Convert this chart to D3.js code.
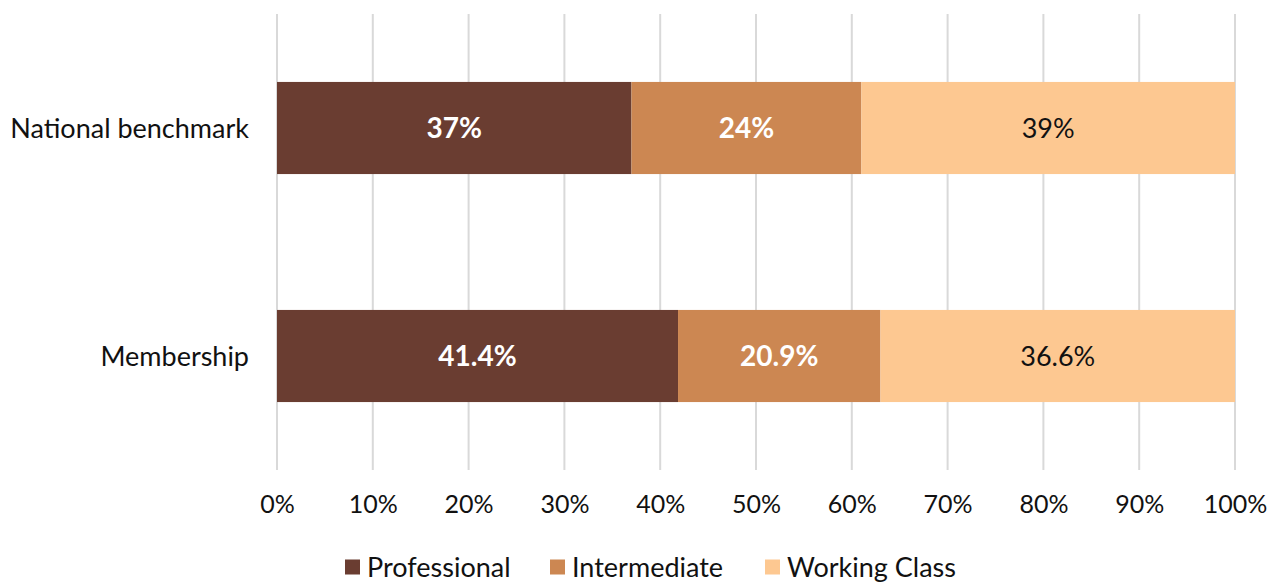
<!DOCTYPE html>
<html><head><meta charset="utf-8">
<script src="https://cdn.jsdelivr.net/npm/d3@7"></script>
<style>body{margin:0;background:#fff}text{font-family:Lato,"Open Sans",sans-serif}</style>
</head><body><svg id="c" width="1280" height="584"></svg>
<script>
const categories = ["National benchmark", "Membership"];
const seriesNames = ["Professional", "Intermediate", "Working Class"];
const professional = [37, 41.4];
const intermediate = [24, 20.9];
const workingClass = [39, 36.6];
const labels = [["37%", "41.4%"], ["24%", "20.9%"], ["39%", "36.6%"]];
const tickValues = [0, 0.1, 0.2, 0.3, 0.4, 0.5, 0.6, 0.7, 0.8, 0.9, 1];
const colors = ["#6a3d31", "#cc8752", "#fdc891"];
const labelColors = ["#fff", "#fff", "#111"];
const labelWeights = ["bold", "bold", "normal"];
const labelSizes = [28, 28, 27];

const svg = d3.select("#c");
const mLeft = 277, mRight = 1235, mTop = 14, mBottom = 470;
const x = d3.scaleLinear().domain([0, 1]).range([mLeft, mRight]);
const y = d3.scaleBand().domain(categories).range([mTop, mBottom]).paddingInner(0.596).paddingOuter(0.298);

// gridlines
svg.append("g").selectAll("line").data(tickValues).join("line")
  .attr("x1", d => x(d)).attr("x2", d => x(d)).attr("y1", mTop).attr("y2", mBottom)
  .attr("stroke", "#d9d9d9").attr("stroke-width", 2);

const rows = categories.map((c, i) => {
  const vals = [professional[i], intermediate[i], workingClass[i]];
  const tot = d3.sum(vals);
  const o = {cat: c};
  seriesNames.forEach((s, j) => o[s] = vals[j] / tot);
  return o;
});
const stack = d3.stack().keys(seriesNames)(rows);

stack.forEach((layer, j) => {
  const g = svg.append("g");
  g.selectAll("rect").data(layer).join("rect")
    .attr("x", d => x(d[0])).attr("width", d => x(d[1]) - x(d[0]))
    .attr("y", d => y(d.data.cat)).attr("height", y.bandwidth())
    .attr("fill", colors[j]);
  g.selectAll("text").data(layer).join("text")
    .attr("x", d => (x(d[0]) + x(d[1])) / 2)
    .attr("y", d => y(d.data.cat) + y.bandwidth() / 2)
    .attr("dy", "0.36em").attr("text-anchor", "middle")
    .attr("font-size", labelSizes[j]).attr("font-weight", labelWeights[j]).attr("fill", labelColors[j])
    .text((d, i) => labels[j][i]);
});

// y labels
svg.append("g").selectAll("text").data(categories).join("text")
  .attr("x", 249).attr("y", d => y(d) + y.bandwidth() / 2).attr("dy", "0.36em")
  .attr("text-anchor", "end").attr("font-size", 27).attr("fill", "#111").text(d => d);

// x axis
const xa = svg.append("g").attr("transform", `translate(0,${mBottom})`)
  .call(d3.axisBottom(x).tickValues(tickValues).tickFormat(d3.format(".0%")).tickSize(0).tickPadding(25));
xa.select(".domain").remove();
xa.selectAll("text").attr("font-size", 25).attr("fill", "#111").style("font-family", "Lato");

// legend
const legX = [345, 550, 765];
const lg = svg.append("g").selectAll("g").data(seriesNames).join("g")
  .attr("transform", (d, i) => `translate(${legX[i]},567)`);
lg.append("rect").attr("x", 0).attr("y", -7.5).attr("width", 15).attr("height", 15).attr("fill", (d, i) => colors[i]);
lg.append("text").attr("x", 22).attr("dy", "0.36em").attr("font-size", 27).attr("fill", "#111").text(d => d);
</script></body></html>
